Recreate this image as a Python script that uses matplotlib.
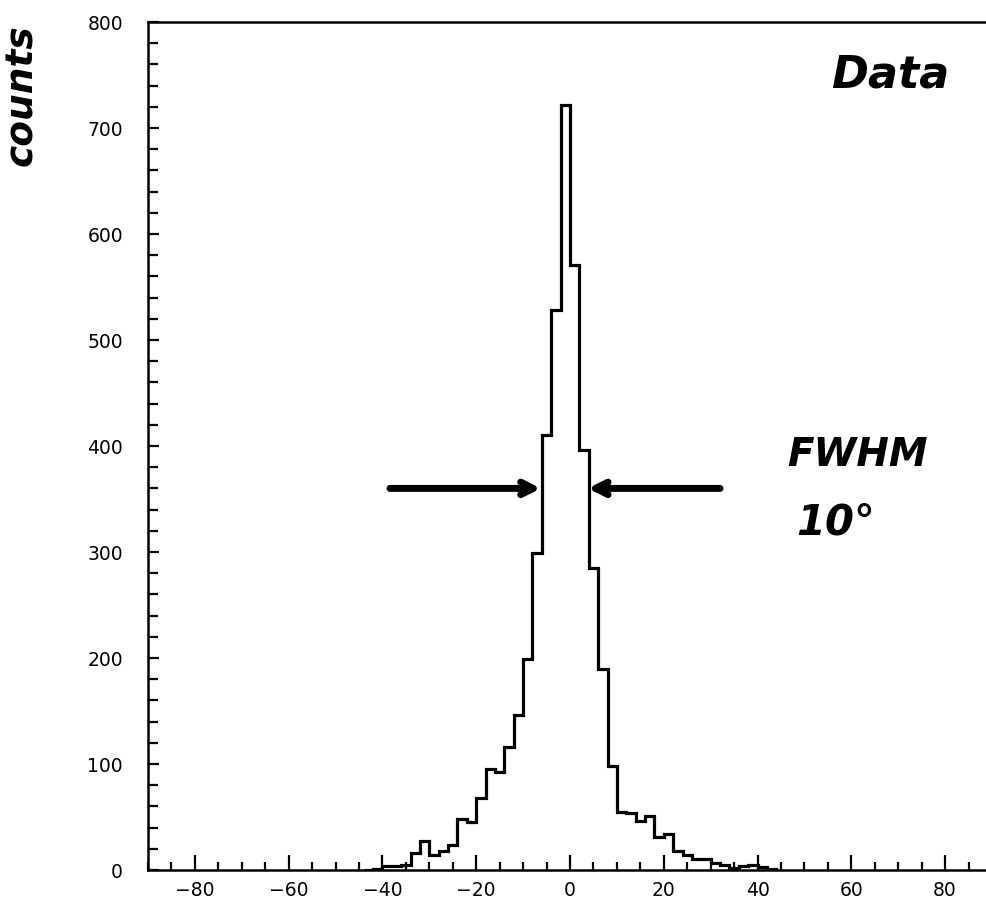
import numpy as np
import matplotlib
matplotlib.use("Agg")
import matplotlib.pyplot as plt
from matplotlib.ticker import MultipleLocator

# bin edges (degrees) and counts per bin
bin_edges = list(range(-44, 46, 2))
counts = [0, 1, 4, 4, 5, 16, 27, 14, 18, 24, 48, 45, 68, 95, 92, 116, 146,
          199, 299, 410, 528, 722, 571, 396, 285, 190, 98, 55, 54, 46, 51, 31,
          34, 18, 14, 10, 10, 7, 5, 2, 4, 5, 3, 1]

y_ticks = [0, 100, 200, 300, 400, 500, 600, 700, 800]
x_ticks = [-80, -60, -40, -20, 0, 20, 40, 60, 80]

fwhm_y = 360
fwhm_left = (-38.4, -6.2)
fwhm_right = (32.0, 3.8)

fig = plt.figure(figsize=(9.86, 9.02), dpi=100)
ax = fig.add_axes([148/986, 32/902, 844/986, 848/902])

ax.stairs(counts, bin_edges, color="black", linewidth=2.3)

ax.set_xlim(-90, 90)
ax.set_ylim(0, 800)
ax.set_xticks(x_ticks)
ax.set_yticks(y_ticks)
ax.xaxis.set_minor_locator(MultipleLocator(5))
ax.yaxis.set_minor_locator(MultipleLocator(20))
ax.set_xticklabels([f"\u2212{abs(v)}" if v < 0 else str(v) for v in x_ticks])

ax.tick_params(axis="both", which="both", direction="in", top=False, right=False,
               width=1.6, labelsize=13.5, colors="black")
ax.tick_params(axis="x", which="major", length=11, pad=8)
ax.tick_params(axis="x", which="minor", length=6)
ax.tick_params(axis="y", which="major", length=8, pad=18)
ax.tick_params(axis="y", which="minor", length=7)
for s in ["left", "bottom", "top"]:
    ax.spines[s].set_linewidth(1.8)
ax.spines["right"].set_visible(False)

hand = dict(family="DejaVu Sans", fontweight="bold", fontstyle="italic", color="black")

ax.text(0.95, 0.937, "Data", transform=ax.transAxes, fontsize=32,
        ha="right", va="center", **hand)
ax.text(0.84, 0.489, "FWHM", transform=ax.transAxes, fontsize=28,
        ha="center", va="center", **hand)
ax.text(0.815, 0.41, "10°", transform=ax.transAxes, fontsize=30,
        ha="center", va="center", **hand)
fig.text(22/986, 1 - 95/902, "counts", rotation=90, fontsize=27,
         ha="center", va="center", **hand)

arrow_kw = dict(arrowstyle="->, head_length=0.9, head_width=0.45", lw=5,
                color="black", shrinkA=0, shrinkB=0, capstyle="round")
ax.annotate("", xy=(fwhm_left[1], fwhm_y), xytext=(fwhm_left[0], fwhm_y),
            arrowprops=arrow_kw)
ax.annotate("", xy=(fwhm_right[1], fwhm_y), xytext=(fwhm_right[0], fwhm_y),
            arrowprops=arrow_kw)

fig.savefig("out.png", dpi=100)
